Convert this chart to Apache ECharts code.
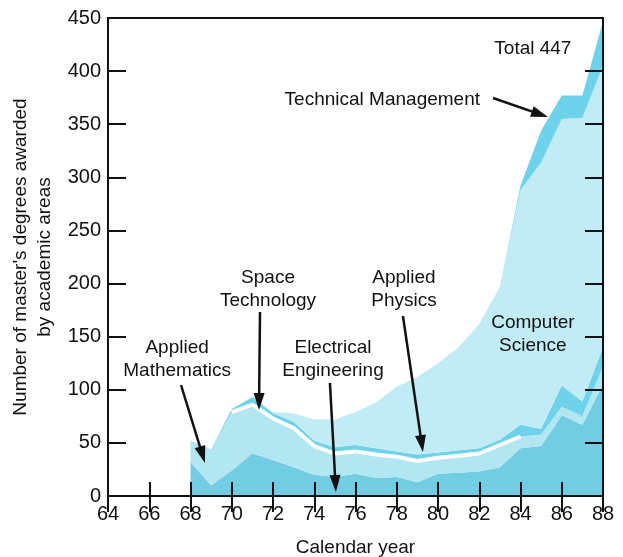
<!DOCTYPE html>
<html>
<head>
<meta charset="utf-8">
<script src="https://cdn.jsdelivr.net/npm/echarts@6/dist/echarts.min.js"></script>
<style>
html,body{margin:0;padding:0;background:#fff;}
#chart{width:623px;height:557px;}
</style>
</head>
<body>
<div id="chart"></div>
<script>
// ---- Data ----
const axisYears = [64,65,66,67,68,69,70,71,72,73,74,75,76,77,78,79,80,81,82,83,84,85,86,87,88];
const years = [68,69,70,71,72,73,74,75,76,77,78,79,80,81,82,83,84,85,86,87,88];
const electricalEngineering = [32,10,24,40,34,27,20,18,21,17,18,13,21,22,23,27,45,47,76,67,105];
const appliedMathematics   = [20,34,55,46,39,37,27,22,21,22,19,20,15,16,17,21,11,11,8,8,17];
const spaceTechnology      = [0,0,3,7,5,6,5,0,0,0,0,0,0,0,0,0,0,0,0,0,0];
const appliedPhysics       = [0,0,0,0,0,0,0,6,6,6,5,6,5,5,5,5,11,5,20,14,18];
const computerScience      = [0,0,0,1,1,8,20,26,31,43,61,73,84,97,117,144,221,251,251,267,265];
const technicalManagement  = [0,0,0,0,0,0,0,0,0,0,0,0,0,0,0,0,4,30,22,21,42];
// white separator drawn along the top of Applied Mathematics (years 70-84)
const separatorYears = [70,71,72,73,74,75,76,77,78,79,80,81,82,83,84];

const yTicks = {min: 0, max: 450, interval: 50};

const FONT = '"Liberation Sans", Arial, Helvetica, sans-serif';
const colors = {
  ee: '#72cce2',
  am: '#b2e6f1',
  band: '#6ed2ea',
  cs: '#c1ecf5',
  tm: '#6ed2ea'
};

// align a series (indexed by `years`) to the full category axis
function onAxis(arr) {
  return axisYears.map(y => { const i = years.indexOf(y); return i < 0 ? '-' : arr[i]; });
}
function areaSeries(name, arr, color) {
  return {
    name: name, type: 'line', stack: 'total', data: onAxis(arr),
    symbol: 'none', smooth: false,
    lineStyle: {width: 0, color: color},
    areaStyle: {color: color, opacity: 1},
    emphasis: {disabled: true}, silent: true
  };
}
const separatorValues = years.map((y, i) =>
  separatorYears.indexOf(y) >= 0 ? electricalEngineering[i] + appliedMathematics[i] : '-');

const chart = echarts.init(document.getElementById('chart'), null, {renderer: 'canvas'});

const catAxisCommon = {
  type: 'category', data: axisYears.map(String), boundaryGap: false
};

const option = {
  animation: false,
  backgroundColor: '#fff',
  grid: {left: 108, right: 20, top: 18, bottom: 61, containLabel: false, outerBoundsMode: 'none',
         show: true, borderColor: '#111', borderWidth: 2, backgroundColor: 'transparent', z: 10},
  xAxis: [Object.assign({}, catAxisCommon, {
    position: 'bottom',
    name: 'Calendar year', nameLocation: 'middle', nameGap: 42,
    nameTextStyle: {fontFamily: FONT, fontSize: 19, color: '#111'},
    axisLine: {show: true, lineStyle: {color: '#111', width: 2}},
    axisTick: {show: true, inside: true, length: 14, interval: 1, lineStyle: {color: '#111', width: 2}},
    axisLabel: {fontFamily: FONT, fontSize: 20, color: '#111', margin: 8, interval: 1},
    splitLine: {show: false}, z: 10
  }), Object.assign({}, catAxisCommon, {
    position: 'top',
    axisLine: {show: false},
    axisTick: {show: true, inside: true, length: 16, interval: 1, lineStyle: {color: '#111', width: 2}},
    axisLabel: {show: false}, splitLine: {show: false}, z: 10
  })],
  yAxis: [{
    type: 'value', min: yTicks.min, max: yTicks.max, interval: yTicks.interval,
    position: 'left',
    name: "Number of master's degrees awarded\nby academic areas",
    nameLocation: 'middle', nameGap: 43,
    nameTextStyle: {fontFamily: FONT, fontSize: 19, color: '#111', lineHeight: 24},
    axisLine: {show: true, lineStyle: {color: '#111', width: 2}},
    axisTick: {show: true, inside: true, length: 18, lineStyle: {color: '#111', width: 2}},
    axisLabel: {fontFamily: FONT, fontSize: 20, color: '#111', margin: 7},
    splitLine: {show: false}, z: 10
  }, {
    type: 'value', min: yTicks.min, max: yTicks.max, interval: yTicks.interval,
    position: 'right',
    axisLine: {show: false},
    axisTick: {show: true, inside: true, length: 18, lineStyle: {color: '#111', width: 2}},
    axisLabel: {show: false}, splitLine: {show: false}, z: 10
  }],
  series: [
    areaSeries('Electrical Engineering', electricalEngineering, colors.ee),
    areaSeries('Applied Mathematics', appliedMathematics, colors.am),
    areaSeries('Space Technology', spaceTechnology, colors.band),
    areaSeries('Applied Physics', appliedPhysics, colors.band),
    areaSeries('Computer Science', computerScience, colors.cs),
    areaSeries('Technical Management', technicalManagement, colors.tm),
    {
      name: 'separator', type: 'line', data: onAxis(separatorValues),
      symbol: 'none', connectNulls: false, z: 5,
      lineStyle: {width: 4, color: '#ffffff'}, silent: true
    }
  ]
};
chart.setOption(option);

// ---- Annotations (positions in data units: fractional year, value) ----
const labels = [
  {text: 'Total 447', at: [84.6, 421]},
  {text: 'Technical Management', at: [77.3, 373]},
  {text: 'Space\nTechnology', at: [71.76, 195]},
  {text: 'Applied\nPhysics', at: [78.35, 195]},
  {text: 'Applied\nMathematics', at: [67.35, 129]},
  {text: 'Electrical\nEngineering', at: [74.91, 129]},
  {text: 'Computer\nScience', at: [84.6, 152.5]}
];
const arrows = [
  {from: [82.67, 374.7], to: [85.33, 356.8]},
  {from: [71.37, 173.2], to: [71.32, 81.0]},
  {from: [78.30, 169.5], to: [79.27, 41.4]},
  {from: [67.54, 104.5], to: [68.70, 31.1]},
  {from: [74.76, 106.4], to: [75.05, 3.8]}
];

const x0 = chart.convertToPixel({xAxisIndex: 0}, '64');
const x1 = chart.convertToPixel({xAxisIndex: 0}, '88');
function px(p) {
  const x = x0 + (p[0] - 64) / (88 - 64) * (x1 - x0);
  const y = chart.convertToPixel({yAxisIndex: 0}, p[1]);
  return [x, y];
}

const graphics = [];
labels.forEach(l => {
  const p = px(l.at);
  graphics.push({
    type: 'text', x: p[0], y: p[1], z: 100,
    style: {text: l.text, fill: '#111', font: '19px ' + FONT, align: 'center', verticalAlign: 'middle', lineHeight: 23}
  });
});
arrows.forEach(a => {
  const s = px(a.from), t = px(a.to);
  const dx = t[0] - s[0], dy = t[1] - s[1];
  const len = Math.sqrt(dx * dx + dy * dy);
  const ux = dx / len, uy = dy / len;
  const headLen = 17, headHalf = 5.5;
  const bx = t[0] - ux * headLen, by = t[1] - uy * headLen;
  graphics.push({
    type: 'line', z: 100,
    shape: {x1: s[0], y1: s[1], x2: bx + ux * 2, y2: by + uy * 2},
    style: {stroke: '#111', lineWidth: 2.5}
  });
  graphics.push({
    type: 'polygon', z: 100,
    shape: {points: [[t[0], t[1]], [bx - uy * headHalf, by + ux * headHalf], [bx + uy * headHalf, by - ux * headHalf]]},
    style: {fill: '#111'}
  });
});
chart.setOption({graphic: graphics});
</script>
</body>
</html>
